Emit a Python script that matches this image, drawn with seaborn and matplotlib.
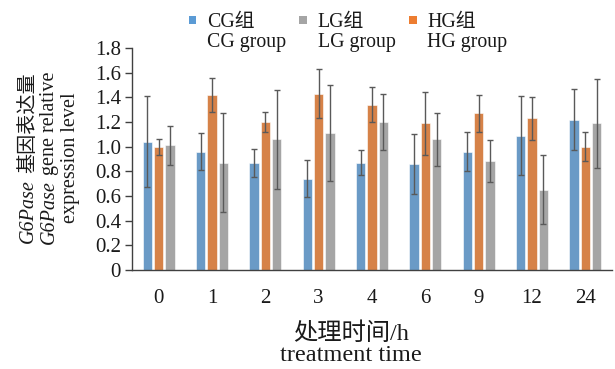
import numpy as np
import pandas as pd
import matplotlib
matplotlib.use('Agg')
import matplotlib.pyplot as plt
import seaborn as sns
from matplotlib.patches import Rectangle
from matplotlib.legend_handler import HandlerPatch
from matplotlib.transforms import offset_copy

# data
times = ['0', '1', '2', '3', '4', '6', '9', '12', '24']
cg = [1.04, 0.96, 0.87, 0.74, 0.87, 0.86, 0.96, 1.09, 1.22]
cg_err = [0.37, 0.15, 0.115, 0.15, 0.10, 0.245, 0.155, 0.32, 0.245]
hg = [1.00, 1.42, 1.20, 1.43, 1.34, 1.19, 1.27, 1.23, 1.00]
hg_err = [0.065, 0.14, 0.08, 0.20, 0.14, 0.255, 0.15, 0.175, 0.12]
lg = [1.01, 0.87, 1.06, 1.11, 1.20, 1.06, 0.88, 0.65, 1.19]
lg_err = [0.155, 0.40, 0.40, 0.39, 0.23, 0.215, 0.17, 0.28, 0.36]

groups = ['CG', 'HG', 'LG']
colors = {'CG': '#5B9BD5', 'HG': '#ED7D31', 'LG': '#A5A5A5'}
legend_labels = {'CG': 'CG组\nCG group', 'LG': 'LG组\nLG group', 'HG': 'HG组\nHG group'}

df = pd.concat([
    pd.DataFrame({'time': times, 'value': cg, 'group': 'CG'}),
    pd.DataFrame({'time': times, 'value': hg, 'group': 'HG'}),
    pd.DataFrame({'time': times, 'value': lg, 'group': 'LG'}),
])

sns.set_style('white')
fam = ['Liberation Serif', 'Noto Sans CJK SC']
plt.rcParams['font.family'] = fam
plt.rcParams['axes.unicode_minus'] = False
axc = '#404040'
txtc = '#1a1a1a'

fig = plt.figure(figsize=(6.15, 3.69), dpi=100)
ax = fig.add_axes([132/615, 1-270/369, 480/615, 222/369])

sns.barplot(data=df, x='time', y='value', hue='group', hue_order=groups,
            palette=colors, errorbar=None, width=0.64, gap=0.16,
            edgecolor='white', linewidth=0.4, legend=False, ax=ax)

for cont, errs in zip(ax.containers, [cg_err, hg_err, lg_err]):
    xs = [p.get_x() + p.get_width()/2 for p in cont]
    ys = [p.get_height() for p in cont]
    ax.errorbar(xs, ys, yerr=errs, fmt='none', ecolor='#595959',
                elinewidth=1.0, capsize=2.2, capthick=1.0)

ax.set_ylim(0, 1.8)
ax.set_xlim(-0.5, len(times) - 0.5)
ax.set_yticks(np.arange(0, 1.81, 0.2))
ax.set_yticklabels(['0'] + ['%.1f' % v for v in np.arange(0.2, 1.81, 0.2)])
ax.set_xticks(range(len(times)))
ax.set_xticklabels(times)
ax.set_xticks(np.arange(-0.5, len(times), 1), minor=True)
ax.tick_params(axis='x', which='major', length=0, pad=14, labelsize=15, labelcolor=txtc)
ax.tick_params(axis='x', which='minor', length=5, direction='out', color=axc, width=1)
ax.tick_params(axis='y', length=5, direction='out', color=axc, width=1,
               labelsize=15, pad=3, left=True, labelcolor=txtc)
for s in ['top', 'right']:
    ax.spines[s].set_visible(False)
for s in ['left', 'bottom']:
    ax.spines[s].set_color(axc)
    ax.spines[s].set_linewidth(1.0)

ax.set_ylabel('')
ax.set_xlabel('处理时间/h\ntreatment time', fontsize=17.5, linespacing=1.0, color=txtc)
ax.xaxis.set_label_coords(0.456, -0.235)


def vtext(x, yc, pieces, size):
    # rotated label built from pieces with different styles
    renderer = fig.canvas.get_renderer()
    items = []
    for s, style, gap in pieces:
        t = fig.text(x, yc, s, rotation=90, rotation_mode='anchor', ha='left',
                     va='baseline', fontsize=size, fontstyle=style, family=fam,
                     color=txtc)
        items.append((t, gap * size * fig.dpi / 72))
    lens = [t.get_window_extent(renderer).height + g for t, g in items]
    pos = -sum(lens) / 2
    for (t, g), L in zip(items, lens):
        t.set_transform(offset_copy(fig.transFigure, fig=fig, y=pos + g, units='dots'))
        pos += L


yc = 1 - 158/369
vtext(33/615, yc, [('G6Pase', 'italic', 0), ('基因表达量', 'normal', 0.3)], 14.5)
vtext(54/615, yc, [('G6Pase', 'italic', 0), ('gene relative', 'normal', 0.25)], 14.5)
vtext(75/615, yc, [('expression level', 'normal', 0)], 14.5)


def square(legend, orig_handle, xdescent, ydescent, width, height, fontsize):
    return Rectangle((width*0.5 - 2.8, fontsize*0.78), 5.6, 5.6)


order = ['CG', 'LG', 'HG']
handles = [Rectangle((0, 0), 1, 1, facecolor=colors[g], edgecolor='none') for g in order]
leg = fig.legend(handles, [legend_labels[g] for g in order], ncol=3, frameon=False,
                 loc='upper left', bbox_to_anchor=(188/615, 1 - 13/369),
                 fontsize=14.3, handlelength=0.45, handletextpad=0.5,
                 columnspacing=0.65, borderaxespad=0, borderpad=0,
                 labelspacing=0.2,
                 handler_map={Rectangle: HandlerPatch(patch_func=square)})
for t in leg.get_texts():
    t.set_linespacing(1.05)
    t.set_color(txtc)

fig.savefig('out.png', dpi=100, facecolor='white')
